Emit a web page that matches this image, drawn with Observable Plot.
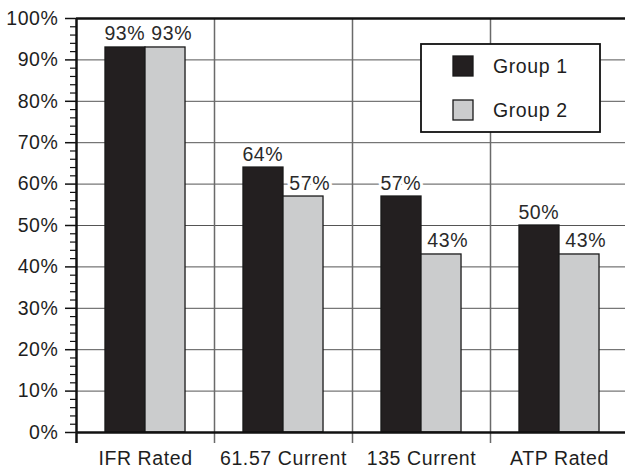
<!DOCTYPE html>
<html>
<head>
<meta charset="utf-8">
<script src="https://cdn.jsdelivr.net/npm/d3@7"></script>
<script src="https://cdn.jsdelivr.net/npm/@observablehq/plot@0.6"></script>
<style>
  html, body { margin: 0; padding: 0; background: white; overflow: hidden; }
</style>
</head>
<body>
<div id="chart"></div>
<script>
const categories = ["IFR Rated", "61.57 Current", "135 Current", "ATP Rated"];
const groups = ["Group 1", "Group 2"];
const group1 = [93, 64, 57, 50];
const group2 = [93, 57, 43, 43];
const yTicks = [0, 10, 20, 30, 40, 50, 60, 70, 80, 90, 100];
const yMinor = d3.range(0, 101, 2).filter(v => v % 10 !== 0);
const gridValues = yTicks.filter(v => v > 0 && v < 100);
const colors = ["#231f20", "#cbcccd"];

const rows = [];
categories.forEach((c, i) => {
  rows.push({cat: c, i, group: groups[0], gi: 0, value: group1[i]});
  rows.push({cat: c, i, group: groups[1], gi: 1, value: group2[i]});
});

const barStart = [0.21, 0.5];
const barEnd = [0.5, 0.79];
const labelPos = [0.35, 0.69];
const FS = 19.5;

const svg = Plot.plot({
  width: 625,
  height: 468,
  marginLeft: 76,
  marginRight: 0,
  marginTop: 18,
  marginBottom: 36,
  style: {
    fontFamily: "'Liberation Sans', Arial, sans-serif",
    fontSize: FS + "px",
    letterSpacing: "0.6px",
    background: "white",
    color: "#1e1e1e",
    overflow: "visible"
  },
  x: {domain: [0, 4], range: [76, 628], axis: null, label: null},
  y: {domain: [0, 100], axis: null, label: null},
  color: {domain: groups, range: colors},
  marks: [
    Plot.ruleY(gridValues, {stroke: "#555", strokeWidth: 1}),
    Plot.ruleX([1, 2, 3], {stroke: "#6a6a6a", strokeWidth: 1.5, insetBottom: -11}),
    Plot.rectY(rows, {
      x1: d => d.i + barStart[d.gi],
      x2: d => d.i + barEnd[d.gi],
      y1: 0,
      y2: "value",
      fill: "group",
      stroke: "#1a1a1a",
      strokeWidth: 1.3
    }),
    Plot.text(rows, {
      x: d => d.i + labelPos[d.gi],
      y: "value",
      text: d => d.value + "%",
      lineAnchor: "bottom",
      dy: -7,
      fill: "#2a2a2a",
      stroke: "white",
      strokeWidth: 6,
      fontSize: FS
    }),
    Plot.ruleY([0], {stroke: "#111", strokeWidth: 2.5}),
    Plot.ruleY([100], {stroke: "#111", strokeWidth: 2.5}),
    Plot.ruleX([0], {stroke: "#111", strokeWidth: 2.5, insetBottom: -11}),
    Plot.axisY(yTicks, {
      anchor: "left",
      label: null,
      tickSize: 11,
      tickPadding: 7,
      tickFormat: d => d + "%",
      stroke: "#111",
      strokeWidth: 1.5,
      fill: "#1e1e1e",
      fontSize: FS
    }),
    Plot.axisY(yMinor, {
      anchor: "left",
      label: null,
      tickSize: 6,
      tickFormat: () => "",
      stroke: "#111",
      strokeWidth: 1.2
    }),
    Plot.axisX([0.5, 1.5, 2.5, 3.5], {
      anchor: "bottom",
      label: null,
      tickSize: 0,
      tickPadding: 19,
      tickFormat: d => categories[Math.floor(d)],
      fill: "#1e1e1e",
      fontSize: FS
    })
  ]
});

// Legend inside the plot area (top right)
const sel = d3.select(svg);
const lg = sel.append("g").attr("class", "legend")
  .attr("text-anchor", "start")
  .attr("font-size", FS);
lg.append("rect")
  .attr("x", 421).attr("y", 44).attr("width", 179).attr("height", 88)
  .attr("fill", "white").attr("stroke", "#111").attr("stroke-width", 1.8);
groups.forEach((g, k) => {
  const cy = 66 + k * 44;
  lg.append("rect")
    .attr("x", 453).attr("y", cy - 10).attr("width", 20).attr("height", 20)
    .attr("fill", colors[k]).attr("stroke", "#1a1a1a").attr("stroke-width", 1.3);
  lg.append("text")
    .attr("x", 493).attr("y", cy).attr("dy", "0.35em")
    .attr("text-anchor", "start")
    .attr("fill", "#1e1e1e")
    .text(g);
});

document.getElementById("chart").appendChild(svg);
</script>
</body>
</html>
